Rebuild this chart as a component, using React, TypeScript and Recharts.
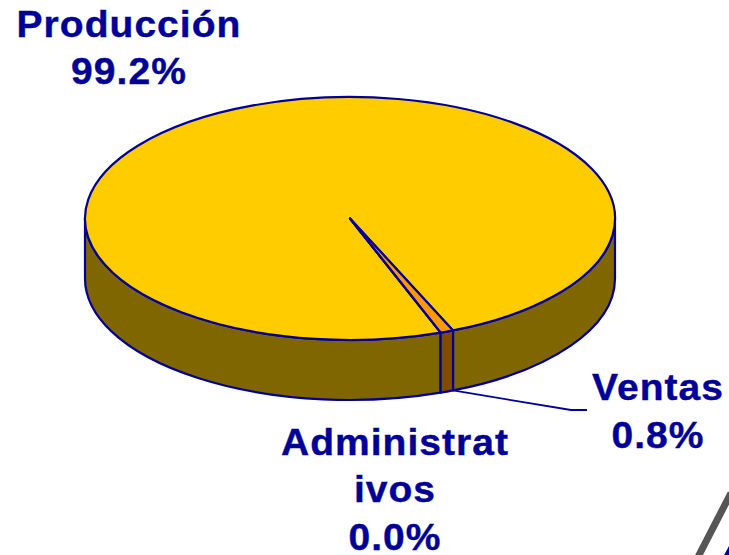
import { PieChart, Pie } from "recharts";

const categories = ["Producción", "Ventas", "Administrativos"];
const shares = [99.2, 0.8, 0.0];
const labelLines = [["Producción", "99.2%"], ["Ventas", "0.8%"], ["Administrat", "ivos", "0.0%"]];
const topColors = ["#FFCC00", "#FF9900", "#FF9900"];
const wallColors = ["#806600", "#804D00", "#804D00"];

const data = categories.map((name, i) => ({ name, value: shares[i] }));

const BLUE = "#000099";
const SQUASH = 0.4585;
const DEPTH = 60;
const RAD = Math.PI / 180;

const labelX = [129, 658, 395];
const labelY = [37, 400, 455];
const labelPitch = [47, 48, 47.5];

// recharts hands back a round sector, flatten it to the tilted disc
const TiltedSector = (props: any) => {
  const { cx, cy, outerRadius: rx, startAngle, endAngle, index } = props;
  const ry = rx * SQUASH;
  const pt = (a: number, dy = 0) =>
    `${cx + rx * Math.cos(a * RAD)} ${cy - ry * Math.sin(a * RAD) + dy}`;

  const walls = [0, -360].map((base) => {
    const a = Math.min(startAngle, base);
    const b = Math.max(endAngle, base - 180);
    if (a <= b) return null;
    const d = `M${pt(a)} A${rx} ${ry} 0 0 1 ${pt(b)} L${pt(b, DEPTH)} A${rx} ${ry} 0 0 0 ${pt(a, DEPTH)} Z`;
    return <path key={base} d={d} fill={wallColors[index]} stroke={BLUE} strokeWidth={2.2} strokeLinejoin="round" />;
  });

  const large = startAngle - endAngle > 180 ? 1 : 0;
  const top = `M${cx} ${cy} L${pt(startAngle)} A${rx} ${ry} 0 ${large} 1 ${pt(endAngle)} Z`;

  return (
    <g>
      {walls}
      <path d={top} fill={topColors[index]} stroke={BLUE} strokeWidth={2.2} strokeLinejoin="round" />
      {index === 1 && (
        <polyline
          points={`${pt(startAngle, DEPTH).replace(" ", ",")} 571,410 587,410`}
          fill="none"
          stroke={BLUE}
          strokeWidth={1.8}
        />
      )}
    </g>
  );
};

// the source text is wider than Liberation Sans Bold, so stretch and space it a bit
const renderLabel = ({ index }: any) => (
  <text
    transform={`translate(${labelX[index]} ${labelY[index]}) scale(1.04 1)`}
    textAnchor="middle"
    fill={BLUE}
    stroke={BLUE}
    strokeWidth={0.4}
    fontFamily="'Liberation Sans', Arial, sans-serif"
    fontWeight="bold"
    fontSize={37.5}
    letterSpacing={1}
  >
    {labelLines[index].map((line, i) => (
      <tspan key={line} x={0} y={i * labelPitch[index]}>
        {line}
      </tspan>
    ))}
  </text>
);

export default function App() {
  return (
    <div style={{ position: "absolute", left: 0, top: 0, width: 729, height: 555, background: "#fff", overflow: "hidden" }}>
      <PieChart width={729} height={555} margin={{ top: 0, right: 0, bottom: 0, left: 0 }}>
        <Pie
          data={data}
          dataKey="value"
          nameKey="name"
          cx={350}
          cy={218.5}
          innerRadius={0}
          outerRadius={265}
          startAngle={-70}
          endAngle={-430}
          shape={TiltedSector}
          label={renderLabel}
          labelLine={false}
          isAnimationActive={false}
        />
        {/* stray edge of the next drawing, cut off by the slide crop */}
        <line x1={731} y1={493} x2={697} y2={559} stroke="#555555" strokeWidth={7} />
        <polygon points="729,546 723,557 729,557" fill={BLUE} />
      </PieChart>
    </div>
  );
}
